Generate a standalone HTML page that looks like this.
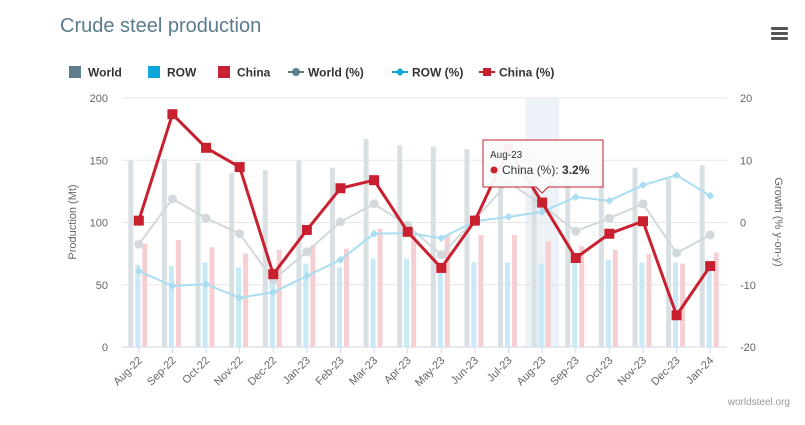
<!DOCTYPE html>
<html><head><meta charset="utf-8"><style>
body{margin:0;background:#fff;font-family:"Liberation Sans",sans-serif;}
svg text{font-family:"Liberation Sans",sans-serif;}
</style></head><body>
<svg id="c" width="805" height="420" xmlns="http://www.w3.org/2000/svg">
<text x="60" y="32" font-size="20" fill="#5a7b8c">Crude steel production</text>
<g fill="#555">
<rect x="771" y="27" width="17" height="3" rx="1"/><rect x="771" y="32" width="17" height="3" rx="1"/><rect x="771" y="37" width="17" height="3" rx="1"/></g>
<g id="legend" font-size="12" font-weight="bold" fill="#333"></g>
<g id="grid"></g><g id="bars"></g><g id="lines"></g><g id="axes" font-size="11" fill="#666"></g>
<text x="790" y="405" font-size="10" fill="#999" text-anchor="end">worldsteel.org</text>
</svg>
<script>
const categories=["Aug-22","Sep-22","Oct-22","Nov-22","Dec-22","Jan-23","Feb-23","Mar-23","Apr-23","May-23","Jun-23","Jul-23","Aug-23","Sep-23","Oct-23","Nov-23","Dec-23","Jan-24"];
const worldProd=[150,151,148,140,142,150,144,167,162,161,159,160,155,150,148,144,135,146];
const rowProd=[66,65,68,64,57,67,64,71,71,68,68,68,67,68,70,68,68,67];
const chinaProd=[83,86,80,75,78,82,79,95,92,90,90,90,85,81,78,75,67,76];
const worldPct=[-3.5,3.8,0.7,-1.8,-9.2,-4.7,0.1,3.0,-0.5,-5.2,0.5,6.5,2.8,-1.4,0.7,3.0,-4.9,-2.0];
const rowPct=[-7.8,-10.2,-9.9,-12.1,-11.2,-8.6,-6.0,-1.8,-1.7,-2.5,0.2,0.9,1.7,4.1,3.5,6.0,7.6,4.3];
const chinaPct=[0.3,17.4,12.0,8.9,-8.3,-1.2,5.5,6.8,-1.5,-7.3,0.3,11.8,3.2,-5.7,-1.8,0.2,-14.9,-7.0];
const leftTicks=[0,50,100,150,200];
const rightTicks=[-20,-10,0,10,20];
const NS="http://www.w3.org/2000/svg";
const X0=122,X1=727,Y0=347,Y1=98;
const bw=(X1-X0)/categories.length;
const xc=i=>X0+bw*(i+0.5);
const yL=v=>Y0-(v/200)*(Y0-Y1);
const yR=v=>Y0-((v+20)/40)*(Y0-Y1);
function mk(tag,attrs,parent){const e=document.createElementNS(NS,tag);for(const k in attrs)e.setAttribute(k,attrs[k]);document.getElementById(parent).appendChild(e);return e;}
// highlight band
let hb=mk('rect',{x:X0+bw*12,y:Y1,width:bw,height:Y0-Y1,fill:'#e6edf5',opacity:0.7},'grid');


leftTicks.forEach((t,k)=>{
 let g=mk('line',{x1:X0,x2:X1,y1:yL(t),y2:yL(t),stroke:k==0?'#ccd6eb':'#e6e6e6'},'grid');
 
 
 let l=mk('text',{x:108,y:yL(t)+4,'text-anchor':'end'},'axes');l.textContent=t;
 
 
});
rightTicks.forEach(t=>{
 let l=mk('text',{x:740,y:yR(t)+4},'axes');l.textContent=t;
 
 
});
let ya=mk('text',{transform:'translate(76,222) rotate(-90)','text-anchor':'middle'},'axes');ya.textContent='Production (Mt)';


let yb=mk('text',{transform:'translate(775,222) rotate(90)','text-anchor':'middle'},'axes');yb.textContent='Growth (% y-on-y)';


categories.forEach((c,i)=>{
 let tk=mk('line',{x1:xc(i),x2:xc(i),y1:Y0,y2:Y0+6,stroke:'#ccd6eb'},'axes');
 
 
 let l=mk('text',{transform:`translate(${xc(i)+4},${Y0+14}) rotate(-45)`,'text-anchor':'end'},'axes');l.textContent=c;
 
 
 const sets=[[worldProd,-8,'#d9e0e4','bar-world'],[rowProd,-1,'#c9e9f6','bar-row'],[chinaProd,6,'#f5cfd2','bar-china']];
 sets.forEach(s=>{
  let b=mk('rect',{x:xc(i)+s[1]-2.5,y:yL(s[0][i]),width:5,height:Y0-yL(s[0][i]),fill:s[2]},'bars');
  
  
 });
});
function line(vals,color,w,shape,name){
 let p=mk('polyline',{points:vals.map((v,i)=>xc(i)+','+yR(v)).join(' '),fill:'none',stroke:color,'stroke-width':w,'stroke-linejoin':'round'},'lines');
 
 
 vals.forEach((v,i)=>{
  let m;
  if(shape=='sq')m=mk('rect',{x:xc(i)-5,y:yR(v)-5,width:10,height:10,fill:color},'lines');
  else if(shape=='dia')m=mk('path',{d:`M${xc(i)},${yR(v)-4}l4,4l-4,4l-4,-4z`,fill:color},'lines');
  else m=mk('circle',{cx:xc(i),cy:yR(v),r:4.5,fill:color},'lines');
  
  
 });
}
line(worldPct,'#d2d8dc',2,'c','world-pct');
line(rowPct,'#a9def2',2,'dia','row-pct');
line(chinaPct,'#c8202f',3,'sq','china-pct');
// legend
const leg=[['World','#5f7d8c','box'],['ROW','#0ea5dc','box'],['China','#c8202f','box'],['World (%)','#5f7d8c','c'],['ROW (%)','#0ea5dc','d'],['China (%)','#c8202f','s']];
const lx=[69,148,218,290,394,481];
leg.forEach((l,k)=>{
 const x=lx[k],y=72;
 let g=mk('g',{},'legend');
 
 
 if(l[2]=='box'){let r=document.createElementNS(NS,'rect');r.setAttribute('x',x);r.setAttribute('y',y-6);r.setAttribute('width',12);r.setAttribute('height',12);r.setAttribute('fill',l[1]);g.appendChild(r);}
 else{let ln=document.createElementNS(NS,'line');ln.setAttribute('x1',x-2);ln.setAttribute('x2',x+14);ln.setAttribute('y1',y);ln.setAttribute('y2',y);ln.setAttribute('stroke',l[1]);ln.setAttribute('stroke-width',2);g.appendChild(ln);
  let m=document.createElementNS(NS,l[2]=='c'?'circle':'rect');
  if(l[2]=='c'){m.setAttribute('cx',x+6);m.setAttribute('cy',y);m.setAttribute('r',4);}
  else if(l[2]=='d'){m.setAttribute('x',x+3);m.setAttribute('y',y-3);m.setAttribute('width',6);m.setAttribute('height',6);m.setAttribute('transform',`rotate(45 ${x+6} ${y})`);}
  else{m.setAttribute('x',x+2);m.setAttribute('y',y-4);m.setAttribute('width',8);m.setAttribute('height',8);}
  m.setAttribute('fill',l[1]);g.appendChild(m);}
 let t=document.createElementNS(NS,'text');t.setAttribute('x',x+(l[2]=='box'?19:18));t.setAttribute('y',y+4.5);t.setAttribute('fill','#333');t.textContent=l[0];g.appendChild(t);
 document.getElementById('legend').appendChild(g);
});
// tooltip
const ti=12,tx=xc(ti),ty=yR(chinaPct[ti]);
let tg=mk('g',{},'lines');


tg.innerHTML=`<path d="M483,140 h120 v47 h-${603-tx-6} l-6,6 l-6,-6 h-${tx-6-483} z" fill="#fbfbfb" fill-opacity="0.95" stroke="#c8202f" stroke-width="1"/>
<text x="490" y="158" font-size="10" fill="#333">${categories[ti]}</text>
<circle cx="494" cy="170" r="3.5" fill="#c8202f"/>
<text x="502" y="174" font-size="12" fill="#333">China (%): <tspan font-weight="bold">${chinaPct[ti]}%</tspan></text>`;
</script>
</body></html>
